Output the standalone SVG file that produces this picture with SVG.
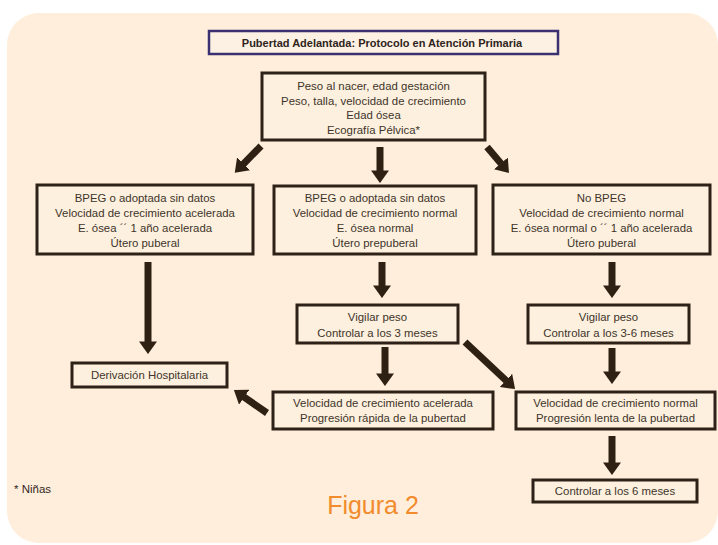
<svg xmlns="http://www.w3.org/2000/svg" width="718" height="545" viewBox="0 0 718 545">
<defs>
<style>
.box{fill:#fdf0df;stroke:#2e2218;stroke-width:3}
.title{fill:#fdf1e3;stroke:#3b3172;stroke-width:2.5}
.t{font-family:"Liberation Sans",Arial,sans-serif;font-size:11.4px;fill:#40342a;text-anchor:middle}
.tb{font-family:"Liberation Sans",Arial,sans-serif;font-size:11px;font-weight:bold;fill:#2e241c;text-anchor:middle}
.arr{stroke:#2e2113;stroke-width:7;fill:none;marker-end:url(#head)}
</style>
<marker id="head" viewBox="0 0 7 10" markerWidth="1.8" markerHeight="2.6" refX="0.3" refY="5" orient="auto" preserveAspectRatio="none">
<path d="M0,0 L7,5 L0,10 Z" fill="#2e2113"/>
</marker>
</defs>
<rect x="0" y="0" width="718" height="545" fill="#ffffff"/>
<rect x="7" y="13" width="711" height="530" rx="32" ry="32" fill="#feeedb"/>

<g id="title">
<rect class="title" x="209" y="31" width="349" height="23"/>
<text class="tb" x="382" y="46.5">Pubertad Adelantada: Protocolo en Atención Primaria</text>
</g>

<g id="inicio">
<rect class="box" x="262" y="73" width="223" height="67"/>
<text class="t" x="373.5" y="90">Peso al nacer, edad gestación</text>
<text class="t" x="373.5" y="104.5">Peso, talla, velocidad de crecimiento</text>
<text class="t" x="373.5" y="119">Edad ósea</text>
<text class="t" x="373.5" y="133.5">Ecografía Pélvica*</text>
</g>

<g id="caso1">
<rect class="box" x="37" y="185" width="216" height="69"/>
<text class="t" x="145" y="201.5">BPEG o adoptada  sin datos</text>
<text class="t" x="145" y="216.5">Velocidad de crecimiento acelerada</text>
<text class="t" x="145" y="231.5">E. ósea ´´ 1 año acelerada</text>
<text class="t" x="145" y="246.5">Útero puberal</text>
</g>

<g id="caso2">
<rect class="box" x="274" y="186" width="202" height="68"/>
<text class="t" x="375" y="201.5">BPEG o adoptada  sin datos</text>
<text class="t" x="375" y="216.5">Velocidad de crecimiento normal</text>
<text class="t" x="375" y="231.5">E. ósea normal</text>
<text class="t" x="375" y="246.5">Útero prepuberal</text>
</g>

<g id="caso3">
<rect class="box" x="493" y="185" width="217" height="69"/>
<text class="t" x="601.5" y="201.5">No BPEG</text>
<text class="t" x="601.5" y="216.5">Velocidad de crecimiento normal</text>
<text class="t" x="601.5" y="231.5">E. ósea normal o ´´ 1 año acelerada</text>
<text class="t" x="601.5" y="246.5">Útero puberal</text>
</g>

<g id="vigilar3">
<rect class="box" x="297" y="305" width="161" height="38"/>
<text class="t" x="377.5" y="321">Vigilar peso</text>
<text class="t" x="377.5" y="337">Controlar a los 3 meses</text>
</g>

<g id="vigilar36">
<rect class="box" x="528" y="305" width="161" height="38"/>
<text class="t" x="608.5" y="321">Vigilar peso</text>
<text class="t" x="608.5" y="337">Controlar a los 3-6 meses</text>
</g>

<g id="derivacion">
<rect class="box" x="72" y="363" width="155" height="24"/>
<text class="t" x="149.5" y="379">Derivación Hospitalaria</text>
</g>

<g id="acelerada">
<rect class="box" x="273" y="392" width="220" height="37"/>
<text class="t" x="383" y="407">Velocidad de crecimiento acelerada</text>
<text class="t" x="383" y="422">Progresión rápida de la pubertad</text>
</g>

<g id="normal">
<rect class="box" x="516" y="392" width="199" height="37"/>
<text class="t" x="615.5" y="407">Velocidad de crecimiento normal</text>
<text class="t" x="615.5" y="422">Progresión lenta de la pubertad</text>
</g>

<g id="control6">
<rect class="box" x="533" y="480" width="164" height="22"/>
<text class="t" x="615" y="495">Controlar a los 6 meses</text>
</g>

<g id="connectors">
<line class="arr" x1="261" y1="146" x2="243.2" y2="164.2"/>
<line class="arr" x1="380" y1="147" x2="380" y2="171"/>
<line class="arr" x1="487" y1="147" x2="501.2" y2="163.8"/>
<line class="arr" x1="148" y1="262" x2="148" y2="342"/>
<line class="arr" x1="382" y1="262" x2="382" y2="286"/>
<line class="arr" x1="612" y1="262" x2="612" y2="286"/>
<line class="arr" x1="385" y1="347" x2="385" y2="374"/>
<line class="arr" x1="465" y1="342" x2="506.3" y2="380.8"/>
<line class="arr" x1="612" y1="348" x2="612" y2="372"/>
<line class="arr" x1="267" y1="413" x2="243.8" y2="396.9"/>
<line class="arr" x1="612" y1="436" x2="612" y2="463"/>
</g>

<text x="14" y="493" font-family="'Liberation Sans',Arial,sans-serif" font-size="11.5" fill="#33271e">* Niñas</text>
<text x="373" y="514" font-family="'Liberation Sans',Arial,sans-serif" font-size="25" fill="#f28b2c" text-anchor="middle">Figura 2</text>
</svg>
